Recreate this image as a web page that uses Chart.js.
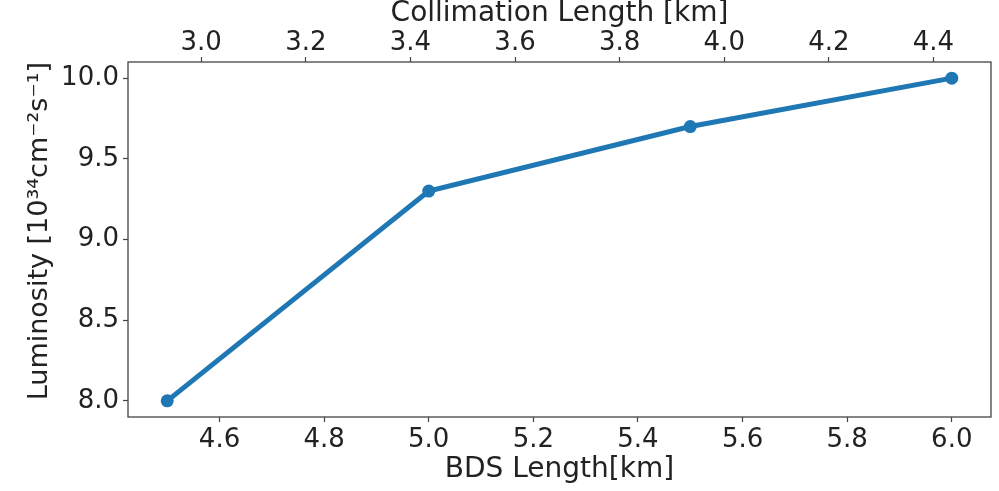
<!DOCTYPE html>
<html><head><meta charset="utf-8">
<script src="https://cdn.jsdelivr.net/npm/chart.js@4.4.0/dist/chart.umd.min.js"></script>
<style>html,body{margin:0;padding:0;background:#fff}#wrap{width:999px;height:491px;position:relative}</style>
</head><body><div id="wrap"><canvas id="c"></canvas></div>
<script>
const bdsLength = [4.5, 5.0, 5.5, 6.0];
const luminosity = [8.0, 9.3, 9.7, 10.0];
const collimationLength = [2.935, 3.435, 3.935, 4.435];
const bdsTicks = [4.6, 4.8, 5.0, 5.2, 5.4, 5.6, 5.8, 6.0];
const collimationTicks = [3.0, 3.2, 3.4, 3.6, 3.8, 4.0, 4.2, 4.4];
const luminosityTicks = [8.0, 8.5, 9.0, 9.5, 10.0];

function padRange(arr) {
  const mn = Math.min(...arr), mx = Math.max(...arr), r = mx - mn;
  return [mn - 0.05 * r, mx + 0.05 * r];
}
const [xMin, xMax] = padRange(bdsLength);
const [x2Min, x2Max] = padRange(collimationLength);
const [yMin, yMax] = padRange(luminosity);

const FONT = "'DejaVu Sans', sans-serif";
const axisColor = '#444';
const textColor = '#222';

function fixedTicks(arr) {
  return function (scale) { scale.ticks = arr.map(v => ({ value: v })); };
}
function tickOpts(pad) {
  return {
    color: textColor,
    font: { family: FONT, size: 26 },
    padding: pad,
    maxRotation: 0,
    autoSkip: false,
    callback: v => Number(v).toFixed(1)
  };
}
const gridOpts = {
  display: true, drawOnChartArea: false, drawTicks: true,
  tickLength: 5, tickColor: axisColor, tickWidth: 1.2
};

const framePlugin = {
  id: 'frame',
  afterDatasetsDraw(chart) {
    const a = chart.chartArea, ctx = chart.ctx;
    ctx.save();
    ctx.strokeStyle = axisColor;
    ctx.lineWidth = 1.3;
    ctx.strokeRect(a.left, a.top, a.right - a.left, a.bottom - a.top);
    ctx.restore();
  }
};

new Chart(document.getElementById('c'), {
  type: 'line',
  data: {
    datasets: [{
      data: bdsLength.map((x, i) => ({ x: x, y: luminosity[i] })),
      borderColor: '#1f77b4',
      backgroundColor: '#1f77b4',
      borderWidth: 5,
      pointRadius: 6.5,
      pointHoverRadius: 6.5,
      pointBorderWidth: 0,
      fill: false,
      tension: 0,
      xAxisID: 'x',
      yAxisID: 'y'
    }]
  },
  options: {
    responsive: true,
    maintainAspectRatio: false,
    animation: false,
    events: [],
    layout: { padding: { left: 0, right: 8, top: 0, bottom: 0 } },
    plugins: { legend: { display: false }, tooltip: { enabled: false } },
    scales: {
      x: {
        type: 'linear', position: 'bottom', min: xMin, max: xMax,
        afterBuildTicks: fixedTicks(bdsTicks),
        afterFit: s => { s.height = 74; },
        ticks: tickOpts(3), grid: gridOpts, border: { display: false },
        title: { display: true, text: 'BDS Length[km]', color: textColor,
          font: { family: FONT, size: 28 }, padding: { top: 0, bottom: 4 } }
      },
      x2: {
        type: 'linear', position: 'top', min: x2Min, max: x2Max,
        afterBuildTicks: fixedTicks(collimationTicks),
        afterFit: s => { s.height = 62; },
        ticks: tickOpts(-2), grid: gridOpts, border: { display: false },
        title: { display: true, text: 'Collimation Length [km]', color: textColor,
          font: { family: FONT, size: 28 }, padding: { top: -3, bottom: 0 } }
      },
      y: {
        type: 'linear', position: 'left', min: yMin, max: yMax,
        afterBuildTicks: fixedTicks(luminosityTicks),
        afterFit: s => { s.width = 128; },
        ticks: tickOpts(4), grid: gridOpts, border: { display: false },
        title: { display: true, text: 'Luminosity [10³⁴cm⁻²s⁻¹]', color: textColor,
          align: 'end',
          font: { family: FONT, size: 27 }, padding: { top: 24, bottom: 0 } }
      }
    }
  },
  plugins: [framePlugin]
});
</script>
</body></html>
